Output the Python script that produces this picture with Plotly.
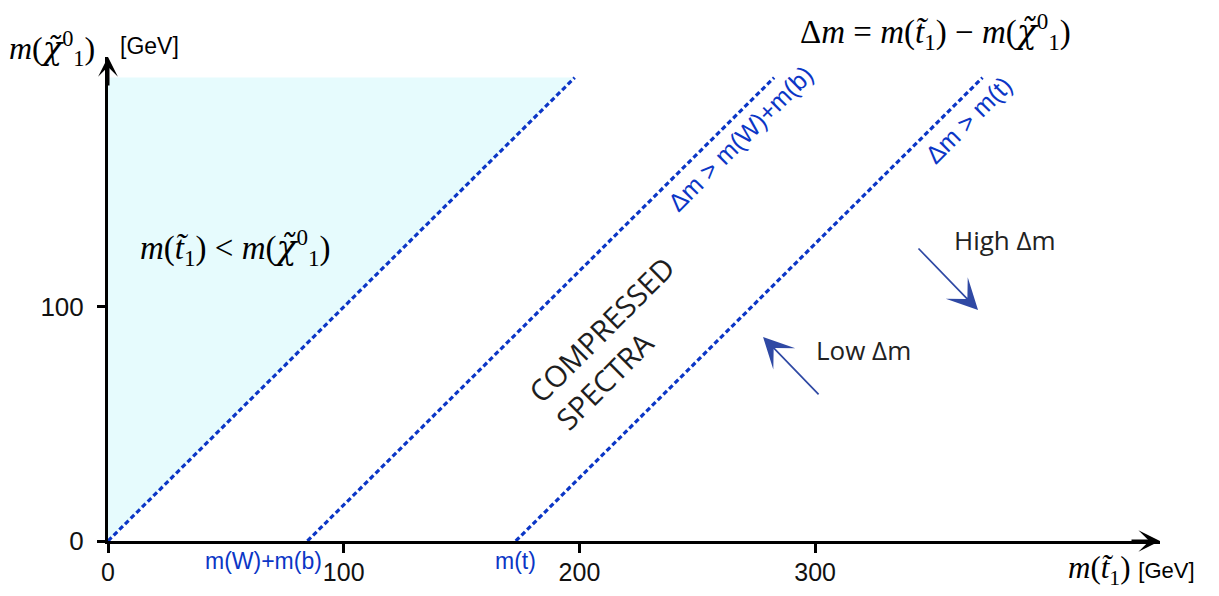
import plotly.graph_objects as go

# ---- data ----
x_ticks = [0, 100, 200, 300]
x_tick_labels = ["0", "100", "200", "300"]
y_ticks = [0, 100]
y_tick_labels = ["0", "100"]
line_offsets = [0.0, 84.6, 173.0]          # Δm thresholds: 0, m(W)+m(b), m(t)
line_labels = ["Δm > m(W)+m(b)", "Δm > m(t)"]
line_label_y = [172.0, 180.0]
threshold_names = ["m(W)+m(b)", "m(t)"]
y_top = 198.0
x_range = [0.0, 446.3]
y_range = [0.0, 206.8]

BLUE = "#0b36c6"
SERIF = "Liberation Serif"
SANS = "Liberation Sans"
TXT = "Open Sans"
CHI = "<span style='font-family:DejaVu Serif'><i>χ̃</i></span>"

fig = go.Figure()

# shaded forbidden region m(stop) < m(LSP)
fig.add_trace(go.Scatter(
    x=[0, 0, y_top + line_offsets[0], 0], y=[0, y_top, y_top, 0],
    fill="toself", fillcolor="#e6fbfd", line=dict(width=0),
    mode="lines", hoverinfo="skip", showlegend=False))

# dotted diagonal threshold lines
for off in line_offsets:
    fig.add_trace(go.Scatter(
        x=[off, off + y_top], y=[0, y_top], mode="lines",
        line=dict(color=BLUE, width=3.2, dash="5px,3px"),
        hoverinfo="skip", showlegend=False, cliponaxis=False))

ann = []
# rotated labels along the lines
for off, lab, ly in zip(line_offsets[1:], line_labels, line_label_y):
    ann.append(dict(x=off + ly, y=ly, text=lab, showarrow=False,
                    textangle=-45, font=dict(family=SANS, size=25, color=BLUE),
                    xanchor="center", yanchor="middle", xshift=28))
# threshold labels under axis
for off, lab, xs in zip(line_offsets[1:], threshold_names, [-44, 0]):
    ann.append(dict(x=off, y=0, text=lab, showarrow=False, xanchor="center",
                    yanchor="middle", yshift=-20, xshift=xs,
                    font=dict(family=SANS, size=23, color=BLUE)))

mchi = "<i>m</i>(" + CHI + "<sup>0</sup><sub>1</sub>)"
mst = "<i>m</i>(<i>t̃</i><sub>1</sub>)"

ann += [
    dict(x=-0.053, y=1.0, xref="paper", yref="paper", text=mchi, showarrow=False,
         xanchor="center", yanchor="middle", yshift=9,
         font=dict(family=SERIF, size=32, color="black")),
    dict(x=0.0393, y=1.0, xref="paper", yref="paper", text="[GeV]", showarrow=False,
         xanchor="center", yanchor="middle", yshift=11,
         font=dict(family=SANS, size=23, color="black")),
    dict(x=0.787, y=1.0, xref="paper", yref="paper",
         text="Δ<i>m</i> = " + mst + " − " + mchi,
         showarrow=False, xanchor="center", yanchor="middle", yshift=26,
         font=dict(family=SERIF, size=33, color="black")),
    dict(x=1.0, y=0, xref="paper", yref="paper",
         text=mst + " <span style='font-family:Liberation Sans;font-size:22px'>[GeV]</span>",
         showarrow=False, xanchor="left", yanchor="middle", xshift=-94, yshift=-29,
         font=dict(family=SERIF, size=31, color="black")),
    dict(x=54.3, y=125.6, text=mst + " < " + mchi,
         showarrow=False, xanchor="center", yanchor="middle",
         font=dict(family=SERIF, size=33, color="black")),
    dict(x=215, y=85, text="COMPRESSED<br>SPECTRA", showarrow=False, textangle=-45,
         align="left", xanchor="center", yanchor="middle",
         font=dict(family=TXT, size=29.5, color="#1e1e1e")),
    dict(x=380.6, y=128.6, text="High Δm", showarrow=False, xanchor="center",
         yanchor="middle", font=dict(family=TXT, size=26, color="#222222")),
    dict(x=320.3, y=81.6, text="Low Δm", showarrow=False, xanchor="center",
         yanchor="middle", font=dict(family=TXT, size=26, color="#222222")),
    # High / Low Δm arrows
    dict(x=369.1, y=98.7, ax=-61, ay=-63, text="", showarrow=True, arrowhead=3,
         arrowsize=3.0, arrowwidth=1.7, arrowcolor="#2f49a4"),
    dict(x=277.9, y=87.2, ax=57, ay=59, text="", showarrow=True, arrowhead=3,
         arrowsize=3.0, arrowwidth=1.7, arrowcolor="#2f49a4"),
    # axis arrowheads
    dict(x=x_range[1], y=0, ax=-30, ay=0, text="", showarrow=True, arrowhead=3,
         arrowsize=1.2, arrowwidth=3, arrowcolor="black"),
    dict(x=0, y=y_range[1], ax=0, ay=30, text="", showarrow=True, arrowhead=3,
         arrowsize=1.1, arrowwidth=3, arrowcolor="black"),
]

# page body has an 8px margin: compensate so the plot lands where intended
fig.update_layout(
    width=1203, height=580,
    margin=dict(l=100, r=51, t=49, b=47, autoexpand=False),
    plot_bgcolor="white", paper_bgcolor="white",
    annotations=ann, showlegend=False,
    xaxis=dict(range=x_range, automargin=False,
               showline=True, linecolor="black", linewidth=3,
               tickmode="array", tickvals=x_ticks, ticktext=x_tick_labels,
               ticks="outside", ticklen=9, tickwidth=3, tickcolor="black",
               ticklabelstandoff=-2,
               showgrid=False, zeroline=False,
               tickfont=dict(family=SANS, size=25, color="#111111")),
    yaxis=dict(range=y_range, automargin=False,
               showline=True, linecolor="black", linewidth=3,
               tickmode="array", tickvals=y_ticks, ticktext=y_tick_labels,
               ticks="outside", ticklen=8, tickwidth=3, tickcolor="black",
               ticklabelstandoff=8,
               showgrid=False, zeroline=False,
               tickfont=dict(family=SANS, size=26, color="#111111")),
)

fig.write_html("out.html")
